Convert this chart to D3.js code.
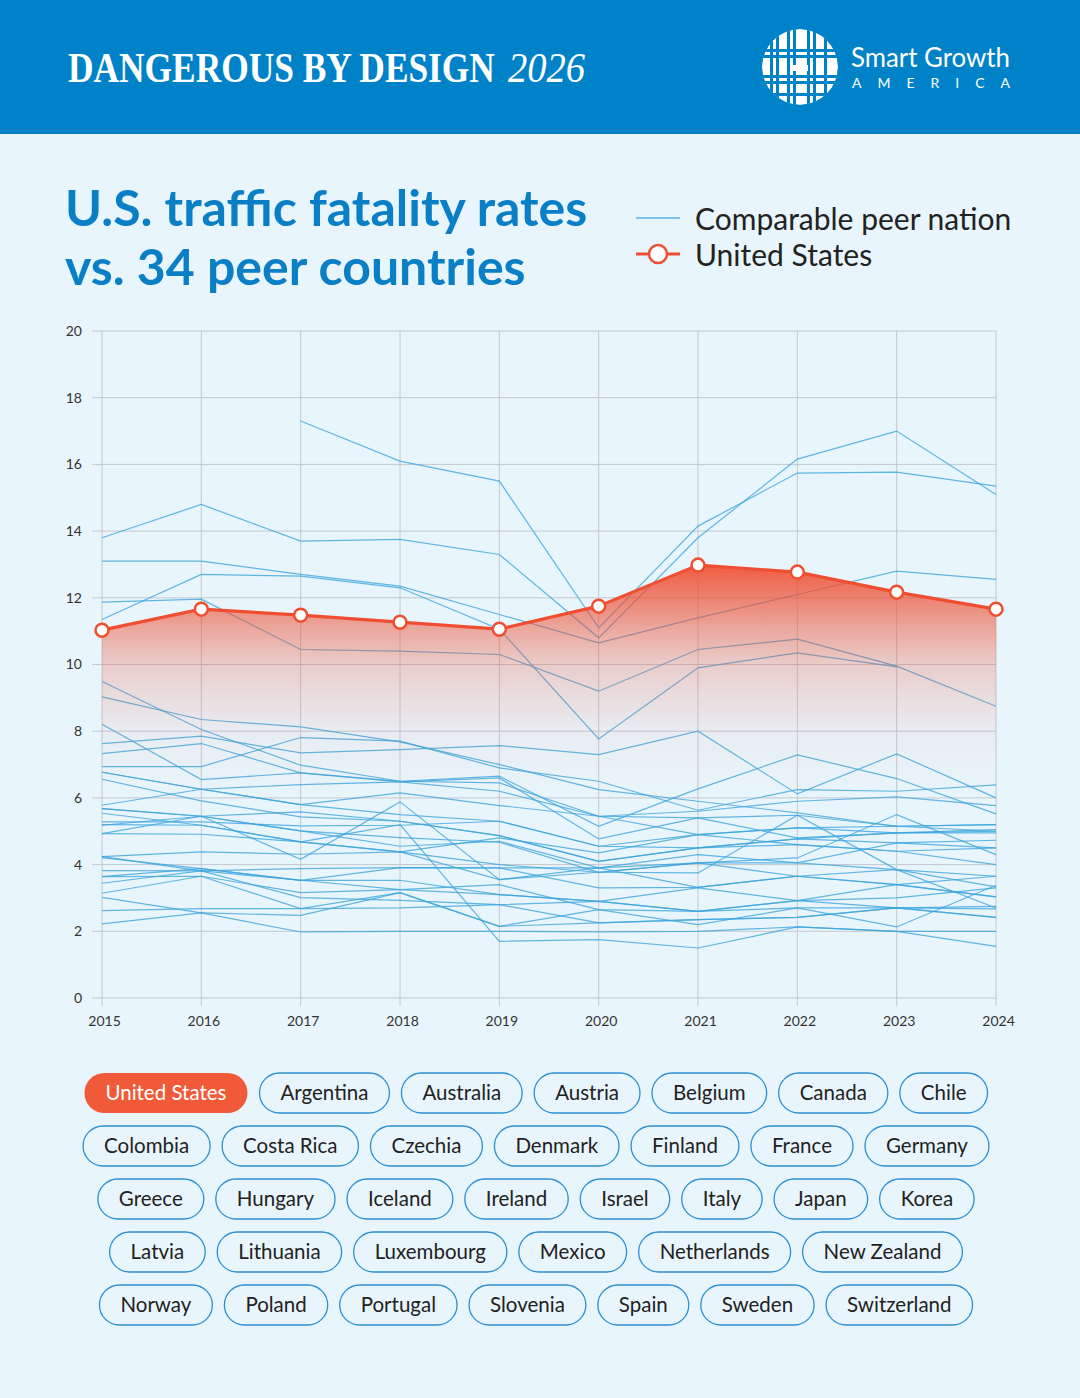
<!DOCTYPE html>
<html>
<head>
<meta charset="utf-8">
<script src="https://cdn.jsdelivr.net/npm/d3@7"></script>
<style>
  html, body { margin: 0; padding: 0; background: #e8f5fc; }
  svg { display: block; font-family: Lato, 'Open Sans', sans-serif; }
</style>
</head>
<body>
<div id="chart"></div>
<script>
// years on the x axis
const years = [2015, 2016, 2017, 2018, 2019, 2020, 2021, 2022, 2023, 2024];
const yTicks = [0, 2, 4, 6, 8, 10, 12, 14, 16, 18, 20];

// fatalities per 100k, United States
const usValues = [11.03, 11.66, 11.48, 11.27, 11.06, 11.75, 12.98, 12.77, 12.17, 11.66];

// 34 peer nations (null = no data)
const peerValues = [
  [null, null, 17.3, 16.1, 15.5, 11.1, 14.15, 15.74, 15.77, 15.35],
  [13.8, 14.8, 13.7, 13.75, 13.3, 10.8, 13.8, 16.16, 17.0, 15.1],
  [13.1, 13.1, 12.7, 12.35, 11.5, 10.65, 11.4, 12.1, 12.8, 12.55],
  [11.87, 11.96, 10.45, 10.4, 10.3, 9.2, 10.45, 10.76, 9.95, 8.75],
  [11.35, 12.7, 12.65, 12.3, 11.06, 7.77, 9.9, 10.35, 9.93, null],
  [9.49, 8.05, 6.98, 6.5, 6.45, 5.45, 5.4, 4.8, 4.95, 4.95],
  [9.03, 8.35, 8.13, 7.68, 7.0, 6.25, 5.9, 5.55, 5.15, 5.2],
  [7.63, 7.85, 7.35, 7.45, 7.57, 7.3, 8.0, 6.12, 7.32, 6.0],
  [7.33, 7.63, 6.75, 6.5, 6.65, 5.15, 6.27, 7.29, 6.58, 5.52],
  [6.94, 6.94, 7.81, 7.7, 6.9, 6.5, 5.63, 6.25, 6.2, 6.39],
  [8.21, 6.55, 6.75, 6.48, 6.2, 5.45, 5.6, 5.9, 6.03, 5.77],
  [6.77, 6.26, 5.8, 5.5, 5.3, 4.55, 4.9, 5.1, 4.95, 5.0],
  [6.56, 5.91, 5.43, 5.3, 4.87, 4.1, 4.5, 4.77, 4.65, 4.73],
  [5.68, 5.45, 4.16, 5.88, 3.55, 3.9, 3.32, 3.65, 3.4, 3.03],
  [5.78, 6.26, 6.4, 6.48, 6.6, 4.77, 5.4, 5.48, 5.15, 5.2],
  [5.68, 5.45, 5.01, 4.81, 4.67, 3.77, 4.05, 4.2, 5.5, 4.3],
  [5.54, 5.18, 4.68, 4.38, 4.8, 4.35, 4.9, 4.6, 4.4, 4.5],
  [5.28, 5.28, 5.16, 5.18, 5.3, 4.55, 4.5, 4.77, 4.95, 5.05],
  [5.18, 5.45, 5.58, 5.3, 4.87, 4.1, 4.5, 4.6, 4.4, 4.0],
  [4.93, 4.91, 4.68, 5.2, 1.7, 1.75, 1.5, 2.13, 2.0, 1.55],
  [4.93, 5.45, 5.01, 4.55, 4.7, 3.9, 4.3, 4.05, 3.85, 3.65],
  [4.24, 4.38, 4.31, 4.38, 4.0, 3.77, 3.75, 5.48, 3.85, 2.7],
  [4.21, 3.88, 3.53, 3.91, 3.9, 3.3, 3.32, 3.65, 3.85, 3.33],
  [3.82, 3.81, 3.88, 3.91, 3.9, 3.9, 4.05, 3.65, 3.4, 3.03],
  [3.64, 3.88, 3.53, 3.53, 3.1, 2.9, 3.3, 2.92, 2.7, 2.75],
  [3.64, 3.65, 3.16, 3.25, 3.4, 2.65, 2.6, 2.7, 2.7, 2.67],
  [3.44, 3.81, 3.01, 2.93, 2.8, 2.25, 2.35, 2.42, 2.7, 2.42],
  [3.14, 3.65, 2.68, 3.16, 2.15, 2.65, 2.2, 2.7, 2.13, 3.38],
  [3.02, 2.55, 1.98, 2.0, 2.0, 1.98, 2.0, 2.13, 2.0, 2.0],
  [2.62, 2.68, 2.68, 2.7, 2.8, 2.9, 2.6, 2.92, 3.4, 3.65],
  [2.22, 2.55, 2.48, 3.16, 2.15, 2.25, 2.35, 2.42, 2.7, 2.42],
  [5.2, 5.18, 4.68, 4.38, 3.55, 3.77, 4.05, 4.05, 4.65, 4.5],
  [4.24, 3.81, 3.53, 3.25, 3.1, 2.9, 2.6, 2.92, 3.0, 3.3],
  [6.77, 6.26, 5.8, 6.15, 5.77, 5.45, 4.9, 5.1, 5.15, 5.0]
];

// country pills, one list per row
const pillRows = [
  ['United States', 'Argentina', 'Australia', 'Austria', 'Belgium', 'Canada', 'Chile'],
  ['Colombia', 'Costa Rica', 'Czechia', 'Denmark', 'Finland', 'France', 'Germany'],
  ['Greece', 'Hungary', 'Iceland', 'Ireland', 'Israel', 'Italy', 'Japan', 'Korea'],
  ['Latvia', 'Lithuania', 'Luxembourg', 'Mexico', 'Netherlands', 'New Zealand'],
  ['Norway', 'Poland', 'Portugal', 'Slovenia', 'Spain', 'Sweden', 'Switzerland']
];

const width = 1080;
const height = 1398;
const blue = '#0082c8';
const red = '#f04e30';

const svg = d3.select('#chart')
  .append('svg')
  .attr('width', width)
  .attr('height', height);

svg.append('rect')
  .attr('width', width)
  .attr('height', height)
  .attr('fill', '#e8f5fc');

// header band
svg.append('rect')
  .attr('width', width)
  .attr('height', 134)
  .attr('fill', blue);

// squeeze a text horizontally so it spans w pixels from x
function squeezed(txt, x, w, style) {
  const t = svg.append('text')
    .attr('fill', '#fff')
    .attr('font-family', "'Liberation Serif', 'DejaVu Serif', serif")
    .attr('font-size', 42)
    .attr('font-weight', style === 'bold' ? 'bold' : 'normal')
    .attr('font-style', style === 'italic' ? 'italic' : 'normal')
    .text(txt);
  const natural = t.node().getComputedTextLength();
  t.attr('transform', `translate(${x},82) scale(${w / natural},1)`);
}
squeezed('DANGEROUS BY DESIGN', 68, 427, 'bold');
squeezed('2026', 508, 77, 'italic');

// logo
const logo = svg.append('g').attr('transform', 'translate(800,67)');
logo.append('clipPath').attr('id', 'logo-clip')
  .append('circle').attr('r', 38);
const lg = logo.append('g').attr('clip-path', 'url(#logo-clip)');
lg.append('circle').attr('r', 38).attr('fill', '#fff');
[-30, -24, -13, -7, 7, 13, 24].forEach(x => {
  lg.append('rect').attr('x', x).attr('y', -38).attr('width', 3).attr('height', 76).attr('fill', blue);
});
[-18, -12, 8, 14, 26].forEach(y => {
  lg.append('rect').attr('x', -38).attr('y', y).attr('width', 76).attr('height', 3).attr('fill', blue);
});
lg.append('rect').attr('x', -8).attr('y', -2).attr('width', 16).attr('height', 6).attr('fill', '#fff');

svg.append('text')
  .attr('x', 851)
  .attr('y', 67)
  .attr('fill', '#fff')
  .attr('font-size', 26)
  .attr('textLength', 159)
  .attr('lengthAdjust', 'spacingAndGlyphs')
  .text('Smart Growth');

svg.append('text')
  .attr('x', 852)
  .attr('y', 88)
  .attr('fill', '#fff')
  .attr('font-size', 14)
  .attr('textLength', 158)
  .text('AMERICA');

// title
svg.append('text')
  .attr('x', 65)
  .attr('y', 226)
  .attr('fill', '#0a7fc6')
  .attr('font-weight', 'bold')
  .attr('font-size', 50)
  .text('U.S. traffic fatality rates');

svg.append('text')
  .attr('x', 65)
  .attr('y', 285)
  .attr('fill', '#0a7fc6')
  .attr('font-weight', 'bold')
  .attr('font-size', 50)
  .text('vs. 34 peer countries');

// legend
const legend = svg.append('g');
legend.append('line')
  .attr('x1', 636).attr('x2', 680).attr('y1', 218).attr('y2', 218)
  .attr('stroke', '#7cc4ea').attr('stroke-width', 2);
legend.append('text')
  .attr('x', 695).attr('y', 230)
  .attr('font-size', 30).attr('fill', '#222')
  .text('Comparable peer nation');
legend.append('line')
  .attr('x1', 636).attr('x2', 680).attr('y1', 254).attr('y2', 254)
  .attr('stroke', red).attr('stroke-width', 3);
legend.append('circle')
  .attr('cx', 658).attr('cy', 254).attr('r', 9)
  .attr('fill', '#fff').attr('stroke', red).attr('stroke-width', 2.5);
legend.append('text')
  .attr('x', 695).attr('y', 266)
  .attr('font-size', 30).attr('fill', '#222')
  .text('United States');

// chart
const x = d3.scaleLinear().domain([2015, 2024]).range([102, 996]);
const y = d3.scaleLinear().domain([0, 20]).range([998, 331]);

const grid = svg.append('g');
grid.selectAll('.hgrid')
  .data(yTicks)
  .enter().append('line')
  .attr('x1', 92).attr('x2', 996)
  .attr('y1', d => y(d)).attr('y2', d => y(d))
  .attr('stroke', d => d === 0 ? '#cdd6de' : '#c4c8ce')
  .attr('stroke-width', d => d === 0 ? 1.5 : 1);
grid.selectAll('.vgrid')
  .data(years)
  .enter().append('line')
  .attr('x1', d => x(d)).attr('x2', d => x(d))
  .attr('y1', y(20)).attr('y2', y(0) + 8)
  .attr('stroke', '#c4c8ce')
  .attr('stroke-width', 1);

const axisY = svg.append('g')
  .attr('transform', 'translate(92,0)')
  .call(d3.axisLeft(y).tickValues(yTicks).tickSize(0).tickPadding(10));
axisY.select('.domain').remove();
axisY.selectAll('text')
  .attr('font-family', 'Lato, sans-serif')
  .attr('font-size', 14)
  .attr('fill', '#333');

const axisX = svg.append('g')
  .attr('transform', `translate(2,${y(0)})`)
  .call(d3.axisBottom(x).tickValues(years).tickFormat(d3.format('d')).tickSize(0).tickPadding(18));
axisX.select('.domain').remove();
axisX.selectAll('text')
  .attr('font-family', 'Lato, sans-serif')
  .attr('font-size', 14)
  .attr('fill', '#333');

const line = d3.line()
  .defined(d => d != null)
  .x((d, i) => x(years[i]))
  .y(d => y(d));

svg.append('g')
  .selectAll('path')
  .data(peerValues)
  .enter().append('path')
  .attr('d', d => line(d))
  .attr('fill', 'none')
  .attr('stroke', '#3da5dc')
  .attr('stroke-opacity', 0.8)
  .attr('stroke-width', 1.2);

// gradient under the US line
const defs = svg.append('defs');
const grad = defs.append('linearGradient')
  .attr('id', 'us-fill')
  .attr('gradientUnits', 'userSpaceOnUse')
  .attr('x1', 0).attr('x2', 0)
  .attr('y1', y(13)).attr('y2', y(6));
[[0, 0.92], [0.286, 0.45], [0.43, 0.24], [0.714, 0.05], [1, 0]].forEach(s => {
  grad.append('stop')
    .attr('offset', s[0])
    .attr('stop-color', red)
    .attr('stop-opacity', s[1]);
});

const area = d3.area()
  .x((d, i) => x(years[i]))
  .y0(y(0))
  .y1(d => y(d));

svg.append('path')
  .attr('d', area(usValues))
  .attr('fill', 'url(#us-fill)');

svg.append('path')
  .attr('d', line(usValues))
  .attr('fill', 'none')
  .attr('stroke', red)
  .attr('stroke-width', 3.2)
  .attr('stroke-linejoin', 'round');

svg.append('g')
  .selectAll('circle')
  .data(usValues)
  .enter().append('circle')
  .attr('cx', (d, i) => x(years[i]))
  .attr('cy', d => y(d))
  .attr('r', 6.5)
  .attr('fill', '#fff')
  .attr('stroke', red)
  .attr('stroke-width', 2.5);

// country pills
const rowY = [1093, 1146, 1199, 1252, 1305];
const pills = svg.append('g');
pillRows.forEach((row, r) => {
  const g = pills.append('g');
  const items = row.map(name => {
    const t = g.append('text')
      .attr('font-size', 20.5)
      .attr('text-anchor', 'middle')
      .attr('fill', name === 'United States' ? '#fff' : '#222')
      .text(name);
    return { name, t, w: t.node().getComputedTextLength() + 42 };
  });
  const gap = 12;
  const total = d3.sum(items, d => d.w) + gap * (items.length - 1);
  let cx = 536 - total / 2;
  items.forEach(d => {
    g.insert('rect', 'text')
      .attr('x', cx)
      .attr('y', rowY[r] - 20)
      .attr('width', d.w)
      .attr('height', 40)
      .attr('rx', 20)
      .attr('fill', d.name === 'United States' ? '#f15a38' : 'none')
      .attr('stroke', d.name === 'United States' ? 'none' : '#2b8fd1')
      .attr('stroke-width', 1.3);
    d.t.attr('x', cx + d.w / 2).attr('y', rowY[r] + 7);
    cx += d.w + gap;
  });
});
</script>
</body>
</html>
